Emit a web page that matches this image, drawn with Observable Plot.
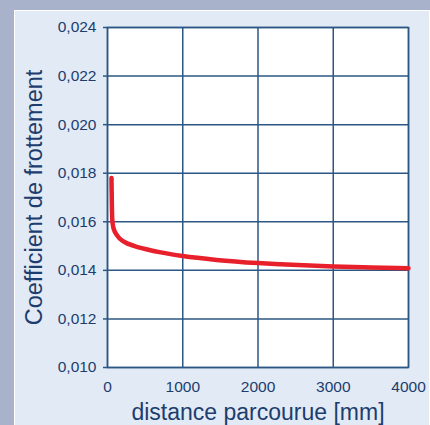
<!DOCTYPE html>
<html>
<head>
<meta charset="utf-8">
<script src="https://cdn.jsdelivr.net/npm/d3@7"></script>
<script src="https://cdn.jsdelivr.net/npm/@observablehq/plot@0.6"></script>
<style>
  html, body { margin: 0; padding: 0; }
  #wrap { position: relative; width: 430px; height: 425px; background: #a8b3cb; overflow: hidden; }
  #panel { position: absolute; left: 14px; top: 10px; width: 414px; height: 420px; background: #e2eaf6; border-left: 1px solid #ffffff; border-top: 1px solid #ffffff; border-right: 1px solid #ffffff; }
  #chart { position: absolute; left: 0; top: 0; }
  #chart svg { background: transparent; }
</style>
</head>
<body>
<div id="wrap"><div id="panel"></div><div id="chart"></div></div>
<script>
const distance = [53, 55, 58, 63, 72, 84, 129, 218, 351, 529, 707, 1000, 1450, 2000, 2300, 3000, 3500, 4000];
const friction = [0.0178, 0.0173, 0.0167, 0.0161, 0.01585, 0.0157, 0.01543, 0.01518, 0.01501, 0.01486, 0.01474, 0.01459, 0.01443, 0.0143, 0.01425, 0.01416, 0.01412, 0.01409];
const xTicks = [0, 1000, 2000, 3000, 4000];
const yTicks = [0.010, 0.012, 0.014, 0.016, 0.018, 0.020, 0.022, 0.024];

const data = distance.map((d, i) => ({d, f: friction[i]}));
const ink = "#1c3d6d";
const grid = "#2c5785";

const chart = Plot.plot({
  width: 430,
  height: 425,
  marginLeft: 107,
  marginRight: 22,
  marginTop: 27,
  marginBottom: 58,
  style: {fontFamily: "'Liberation Sans', Arial, sans-serif", fontSize: "15.5px", color: ink, background: "transparent"},
  x: {domain: [0, 4000]},
  y: {domain: [0.010, 0.024]},
  marks: [
    Plot.frame({fill: "white", stroke: null}),
    Plot.gridX(xTicks, {stroke: grid, strokeOpacity: 1, strokeWidth: 1.5}),
    Plot.gridY(yTicks, {stroke: grid, strokeOpacity: 1, strokeWidth: 1.5}),
    Plot.frame({stroke: grid, strokeWidth: 1.5}),
    Plot.axisX(xTicks, {tickSize: 0, tickPadding: 13, tickFormat: d => String(d), fill: ink,
      label: "distance parcourue [mm]", labelAnchor: "center", labelOffset: 52, labelArrow: "none"}),
    Plot.axisY(yTicks, {tickSize: 4, tickPadding: 7, stroke: grid, strokeWidth: 1.5, tickFormat: d => d3.format(".3f")(d).replace(".", ","), fill: ink,
      label: "Coefficient de frottement", labelAnchor: "center", labelOffset: 82, labelArrow: "none"}),
    Plot.line(data, {x: "d", y: "f", stroke: "#e8202b", strokeWidth: 4.5, curve: "monotone-x"})
  ]
});
document.getElementById("chart").appendChild(chart);
chart.querySelectorAll("g[aria-label='x-axis label'] text").forEach(t => { t.style.fontSize = "23px"; });
chart.querySelectorAll("g[aria-label='y-axis label'] text").forEach(t => { t.style.fontSize = "23.5px"; });
</script>
</body>
</html>
